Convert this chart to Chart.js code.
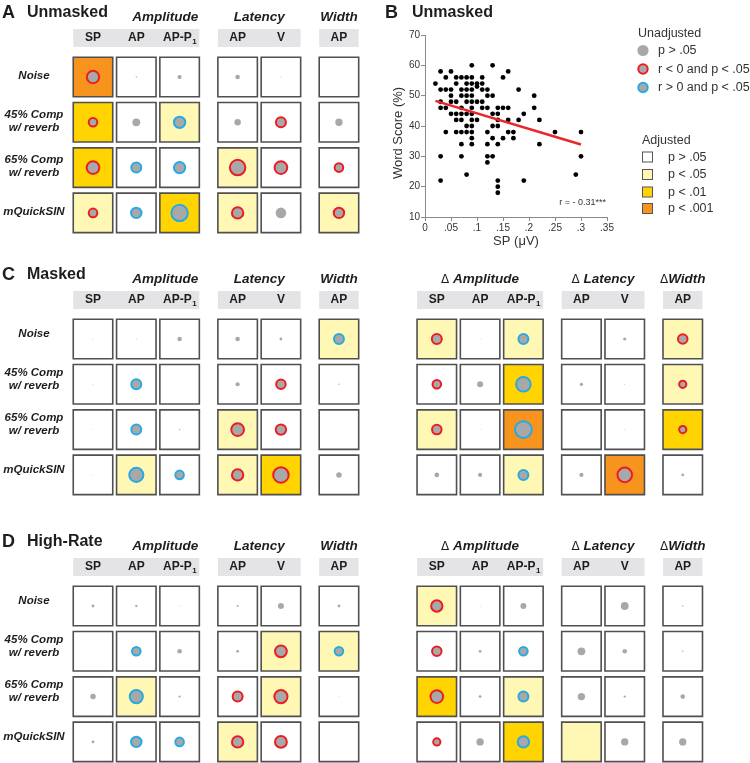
<!DOCTYPE html>
<html><head><meta charset="utf-8">
<script src="https://cdn.jsdelivr.net/npm/chart.js@4.4.1/dist/chart.umd.min.js"></script>
<style>
html,body{margin:0;padding:0;background:#fff;}
#wrap{position:relative;width:750px;height:763px;overflow:hidden;background:#fff;}
canvas{position:absolute;display:block;}
</style></head><body>
<div id="wrap">
<canvas id="cA" width="370" height="250" style="left:0;top:0"></canvas>
<canvas id="cB" width="380" height="250" style="left:370px;top:0"></canvas>
<canvas id="cC" width="750" height="245" style="left:0;top:258px"></canvas>
<canvas id="cD" width="750" height="258" style="left:0;top:505px"></canvas>
</div>
<script>
// ---------------- DATA ----------------
const rowLabels = [['Noise'], ['45% Comp', 'w/ reverb'], ['65% Comp', 'w/ reverb'], ['mQuickSIN']];
const groupCols = [['SP', 'AP', 'AP-P1'], ['AP', 'V'], ['AP']];
const groupTitles = ['Amplitude', 'Latency', 'Width'];
const deltaTitles = ['Δ Amplitude', 'Δ Latency', 'ΔWidth'];
const unadjLabels = ['p > .05', 'r < 0 and p < .05', 'r > 0 and p < .05'];
const adjLabels = ['p > .05', 'p < .05', 'p < .01', 'p < .001'];

// Panel A – Unmasked (columns: Amp SP, AP, AP-P1 | Lat AP, V | Width AP)
const unmaskedR = [
  [-0.31, 0.03, 0.09, 0.10, 0.02, 0.00],
  [-0.23, 0.17, 0.29, 0.14, -0.26, 0.16],
  [-0.32, 0.26, 0.29, -0.38, -0.32, -0.23],
  [-0.23, 0.27, 0.40, -0.29, 0.23, -0.27]
];
const unmaskedSig = [
  [1, 0, 0, 0, 0, 0],
  [1, 0, 1, 0, 1, 0],
  [1, 1, 1, 1, 1, 1],
  [1, 1, 1, 1, 0, 1]
];
const unmaskedAdj = [
  [3, 0, 0, 0, 0, 0],
  [2, 0, 1, 0, 0, 0],
  [2, 0, 0, 1, 0, 0],
  [1, 0, 2, 1, 0, 1]
];

// Panel C – Masked (6 raw + 6 delta columns)
const maskedR = [
  [0.02, 0.02, 0.10, 0.10, 0.06, 0.26, -0.26, 0.02, 0.26, 0.01, 0.07, -0.25],
  [0.02, 0.26, 0.01, 0.09, -0.25, 0.03, -0.23, 0.13, 0.36, 0.07, 0.02, -0.20],
  [0.02, 0.26, 0.03, -0.32, -0.27, 0.01, -0.25, 0.02, 0.41, 0.01, 0.02, -0.20],
  [0.02, 0.35, 0.23, -0.29, -0.38, 0.12, 0.10, 0.09, 0.26, 0.09, -0.36, 0.06]
];
const maskedSig = [
  [0, 0, 0, 0, 0, 1, 1, 0, 1, 0, 0, 1],
  [0, 1, 0, 0, 1, 0, 1, 0, 1, 0, 0, 1],
  [0, 1, 0, 1, 1, 0, 1, 0, 1, 0, 0, 1],
  [0, 1, 1, 1, 1, 0, 0, 0, 1, 0, 1, 0]
];
const maskedAdj = [
  [0, 0, 0, 0, 0, 1, 1, 0, 1, 0, 0, 1],
  [0, 0, 0, 0, 0, 0, 0, 0, 2, 0, 0, 1],
  [0, 0, 0, 1, 0, 0, 1, 0, 3, 0, 0, 2],
  [0, 1, 0, 1, 2, 0, 0, 0, 1, 0, 3, 0]
];

// Panel D – High-Rate
const highRateR = [
  [0.06, 0.05, 0.02, 0.04, 0.13, 0.06, -0.29, 0.02, 0.13, 0.00, 0.17, 0.03],
  [0.01, 0.23, 0.10, 0.06, -0.30, 0.23, -0.25, 0.06, 0.23, 0.17, 0.10, 0.03],
  [0.12, 0.33, 0.05, -0.26, -0.33, 0.02, -0.32, 0.06, 0.26, 0.16, 0.05, 0.10],
  [0.06, 0.27, 0.23, -0.29, -0.30, 0.01, -0.20, 0.16, 0.29, 0.00, 0.16, 0.16]
];
const highRateSig = [
  [0, 0, 0, 0, 0, 0, 1, 0, 0, 0, 0, 0],
  [0, 1, 0, 0, 1, 1, 1, 0, 1, 0, 0, 0],
  [0, 1, 0, 1, 1, 0, 1, 0, 1, 0, 0, 0],
  [0, 1, 1, 1, 1, 0, 1, 0, 1, 0, 0, 0]
];
const highRateAdj = [
  [0, 0, 0, 0, 0, 0, 1, 0, 0, 0, 0, 0],
  [0, 0, 0, 0, 1, 1, 0, 0, 0, 0, 0, 0],
  [0, 1, 0, 0, 1, 0, 2, 0, 1, 0, 0, 0],
  [0, 0, 0, 1, 0, 0, 0, 0, 2, 1, 0, 0]
];

// Panel B – scatter SP (µV) vs Word Score (%)
const spUV = [
  0.09, 0.13,
  0.03, 0.05, 0.16,
  0.04, 0.06, 0.07, 0.08, 0.09, 0.11, 0.15,
  0.02, 0.06, 0.08, 0.09, 0.10, 0.11,
  0.10,
  0.03, 0.04, 0.05, 0.07, 0.08, 0.09, 0.11, 0.12, 0.18,
  0.05, 0.07, 0.08, 0.09, 0.12, 0.13, 0.21,
  0.03, 0.05, 0.06, 0.08, 0.09, 0.10, 0.11,
  0.03, 0.04, 0.07, 0.09, 0.11, 0.12, 0.14, 0.15, 0.16, 0.21,
  0.05, 0.06, 0.07, 0.08, 0.09, 0.13, 0.14, 0.19,
  0.06, 0.07, 0.09, 0.10, 0.14, 0.16, 0.18, 0.22,
  0.08, 0.09, 0.13, 0.14,
  0.04, 0.06, 0.07, 0.08, 0.09, 0.12, 0.16, 0.17, 0.25, 0.30,
  0.09, 0.13, 0.15, 0.17,
  0.07, 0.09, 0.12, 0.14, 0.22,
  0.03, 0.07, 0.12, 0.13, 0.30,
  0.12,
  0.08, 0.29,
  0.03, 0.14, 0.19,
  0.14,
  0.14
];
const wordScore = [
  60, 60,
  58, 58, 58,
  56, 56, 56, 56, 56, 56, 56,
  54, 54, 54, 54, 54, 54,
  53,
  52, 52, 52, 52, 52, 52, 52, 52, 52,
  50, 50, 50, 50, 50, 50, 50,
  48, 48, 48, 48, 48, 48, 48,
  46, 46, 46, 46, 46, 46, 46, 46, 46, 46,
  44, 44, 44, 44, 44, 44, 44, 44,
  42, 42, 42, 42, 42, 42, 42, 42,
  40, 40, 40, 40,
  38, 38, 38, 38, 38, 38, 38, 38, 38, 38,
  36, 36, 36, 36,
  34, 34, 34, 34, 34,
  30, 30, 30, 30, 30,
  28,
  24, 24,
  22, 22, 22,
  20,
  18
];
const fitX = [0.02, 0.30];
const fitY = [48.3, 33.9];
const corrText = 'r = - 0.31***';
const yAxisTitle = 'Word Score (%)';
const xAxisTitle = 'SP (μV)';
const xTickValues = [0, 0.05, 0.1, 0.15, 0.2, 0.25, 0.3, 0.35];
const xTickLabels = ['0', '.05', '.1', '.15', '.2', '.25', '.3', '.35'];
const yTickValues = [10, 20, 30, 40, 50, 60, 70];

// ---------------- STYLE / LAYOUT ----------------
const FONT = '"Liberation Sans", Arial, Helvetica, sans-serif';
const FILLS = ['#FFFFFF', '#FFF7B4', '#FFD400', '#F7941E'];
const GRAY = '#A8A8A8', RED = '#EC1C24', BLUE = '#27AAE1', INK = '#1d1d1d';
const U = 43.3, V = 45.3, X0 = 93, CELL = 39.5, GAP = 0.34, HALF_GAP = 0.92, RSCALE = 23;

function columnPositions(nHalves) {
  const xs = []; let x = 0;
  for (let h = 0; h < nHalves; h++) {
    groupCols.forEach(cols => { cols.forEach(() => { xs.push(x); x += 1; }); x += GAP; });
    x += HALF_GAP;
  }
  return xs;
}

function drawHeaderLabel(ctx, txt, cx, cy) {
  ctx.font = 'bold 12px ' + FONT;
  ctx.textBaseline = 'middle';
  if (txt === 'AP-P1') {
    const main = 'AP-P';
    const w1 = ctx.measureText(main).width;
    ctx.font = 'bold 8px ' + FONT;
    const w2 = ctx.measureText('1').width;
    const left = cx - (w1 + w2) / 2;
    ctx.textAlign = 'left';
    ctx.font = 'bold 12px ' + FONT;
    ctx.fillText(main, left, cy);
    ctx.font = 'bold 8px ' + FONT;
    ctx.fillText('1', left + w1 + 0.5, cy + 4);
  } else {
    ctx.textAlign = 'center';
    ctx.fillText(txt, cx, cy);
  }
}

function drawGroupTitle(ctx, title, x, cy, align) {
  ctx.textBaseline = 'middle';
  const bi = 'italic bold 13.5px ' + FONT;
  if (title.charAt(0) === 'Δ') {
    const rest = title.slice(1);
    ctx.font = '12px "DejaVu Sans", ' + FONT;
    const wd = ctx.measureText('Δ').width;
    ctx.font = bi;
    const wr = ctx.measureText(rest).width;
    let left = align === 'right' ? x - wd - wr : x - (wd + wr) / 2;
    ctx.textAlign = 'left';
    ctx.font = '12px "DejaVu Sans", ' + FONT;
    ctx.fillText('Δ', left, cy + 0.5);
    ctx.font = bi;
    ctx.fillText(rest, left + wd, cy);
  } else {
    ctx.font = bi;
    ctx.textAlign = align;
    ctx.fillText(title, x, cy);
  }
}

function gridChart(id, panel) {
  const canvas = document.getElementById(id);
  const W = canvas.width, H = canvas.height;
  const nCols = panel.r[0].length;
  const nHalves = nCols / 6;
  const colX = columnPositions(nHalves);
  const cells = [], dots = [];
  panel.r.forEach((row, ri) => row.forEach((rv, ci) => {
    cells.push({ x: colX[ci], y: ri, adj: panel.adj[ri][ci] });
    dots.push({ x: colX[ci], y: ri, r: rv, sig: panel.sig[ri][ci] });
  }));

  const textPlugin = {
    id: 'gridText',
    afterDraw(chart) {
      const ctx = chart.ctx, xs = chart.scales.x, ys = chart.scales.y;
      const py0 = ys.getPixelForValue(0);
      const half = CELL / 2;
      ctx.save();
      ctx.fillStyle = INK;
      ctx.textBaseline = 'middle';
      ctx.textAlign = 'left';
      ctx.font = 'bold 18px ' + FONT;
      ctx.fillText(panel.letter, 2, py0 - 64);
      ctx.font = 'bold 16px ' + FONT;
      ctx.fillText(panel.name, 27, py0 - 64);
      // row labels
      ctx.font = 'italic bold 11.5px ' + FONT;
      ctx.textAlign = 'center';
      rowLabels.forEach((lines, ri) => {
        const cy = ys.getPixelForValue(ri) + panel.labelDy;
        if (lines.length === 1) ctx.fillText(lines[0], 34, cy);
        else { ctx.fillText(lines[0], 34, cy - 6.5); ctx.fillText(lines[1], 34, cy + 6.5); }
      });
      // headers + group titles
      let ci = 0;
      for (let h = 0; h < nHalves; h++) {
        groupCols.forEach((cols, gi) => {
          const left = xs.getPixelForValue(colX[ci]) - half;
          const right = xs.getPixelForValue(colX[ci + cols.length - 1]) + half;
          ctx.fillStyle = '#E4E4E6';
          ctx.fillRect(left, py0 - 48, right - left, 18);
          ctx.fillStyle = INK;
          cols.forEach((c, k) => drawHeaderLabel(ctx, c, xs.getPixelForValue(colX[ci + k]), py0 - 39));
          const title = h === 0 ? groupTitles[gi] : deltaTitles[gi];
          if (h === 0 && gi === 0) drawGroupTitle(ctx, title, right - 1, py0 - 60, 'right');
          else drawGroupTitle(ctx, title, (left + right) / 2, py0 - 60, 'center');
          ci += cols.length;
        });
      }
      ctx.restore();
    }
  };

  return new Chart(canvas, {
    type: 'scatter',
    data: {
      datasets: [
        {
          data: dots, order: 0, clip: false,
          pointStyle: 'circle',
          pointRadius: c => { const a = Math.abs(c.raw.r) * RSCALE; return c.raw.sig ? Math.max(a - 1, 0) : a; },
          pointBackgroundColor: GRAY,
          pointBorderColor: c => (c.raw.r < 0 ? RED : BLUE),
          pointBorderWidth: c => (c.raw.sig ? 2 : 0)
        },
        {
          data: cells, order: 1, clip: false,
          pointStyle: 'rect',
          pointRadius: CELL / Math.SQRT2,
          pointBackgroundColor: c => FILLS[c.raw.adj],
          pointBorderColor: '#505050',
          pointBorderWidth: 1.6
        }
      ]
    },
    options: {
      responsive: false, animation: false, events: [],
      layout: { padding: 0, autoPadding: false },
      plugins: { legend: { display: false }, tooltip: { enabled: false } },
      scales: {
        x: { type: 'linear', display: false, min: -X0 / U, max: (W - X0) / U },
        y: { type: 'linear', display: false, reverse: true, min: -panel.y0 / V, max: (H - panel.y0) / V }
      }
    },
    plugins: [textPlugin]
  });
}

gridChart('cA', { letter: 'A', name: 'Unmasked', r: unmaskedR, sig: unmaskedSig, adj: unmaskedAdj, y0: 77, labelDy: -1 });
gridChart('cC', { letter: 'C', name: 'Masked', r: maskedR, sig: maskedSig, adj: maskedAdj, y0: 81, labelDy: -5 });
gridChart('cD', { letter: 'D', name: 'High-Rate', r: highRateR, sig: highRateSig, adj: highRateAdj, y0: 101, labelDy: -5 });

// ---------------- Panel B ----------------
const scatterExtras = {
  id: 'scatterExtras',
  afterDraw(chart) {
    const ctx = chart.ctx;
    const area = chart.chartArea;
    ctx.save();
    ctx.fillStyle = INK; ctx.textBaseline = 'middle'; ctx.textAlign = 'left';
    ctx.font = 'bold 18px ' + FONT; ctx.fillText('B', 15, 13);
    ctx.font = 'bold 16px ' + FONT; ctx.fillText('Unmasked', 42, 13);
    // y-axis title (placed slightly below the axis centre as in the original)
    ctx.save();
    ctx.translate(area.left - 27, (area.top + area.bottom) / 2 + 7);
    ctx.rotate(-Math.PI / 2);
    ctx.textAlign = 'center'; ctx.fillStyle = '#333';
    ctx.font = '13px ' + FONT;
    ctx.fillText(yAxisTitle, 0, 0);
    ctx.restore();
    // correlation text
    ctx.font = '9px ' + FONT; ctx.fillStyle = '#333'; ctx.textAlign = 'right';
    ctx.fillText(corrText, 236, 203);
    // unadjusted legend
    ctx.fillStyle = '#333'; ctx.textAlign = 'left'; ctx.font = '12.5px ' + FONT;
    ctx.fillText('Unadjusted', 268, 34);
    const ly = [50.5, 69, 87.5];
    unadjLabels.forEach((t, i) => {
      ctx.beginPath();
      if (i === 0) { ctx.arc(273, ly[i], 5.6, 0, Math.PI * 2); ctx.fillStyle = GRAY; ctx.fill(); }
      else {
        ctx.arc(273, ly[i], 4.7, 0, Math.PI * 2); ctx.fillStyle = GRAY; ctx.fill();
        ctx.lineWidth = 2; ctx.strokeStyle = i === 1 ? RED : BLUE; ctx.stroke();
      }
      ctx.fillStyle = '#333'; ctx.font = '12.5px ' + FONT;
      ctx.fillText(t, 288, ly[i] + 0.5);
    });
    // adjusted legend
    ctx.fillText('Adjusted', 272, 141);
    const sy = [157, 174.5, 192, 208.5];
    adjLabels.forEach((t, i) => {
      ctx.fillStyle = FILLS[i]; ctx.fillRect(272.5, sy[i] - 5, 10, 10);
      ctx.lineWidth = 1; ctx.strokeStyle = '#555'; ctx.strokeRect(272.5, sy[i] - 5, 10, 10);
      ctx.fillStyle = '#333'; ctx.font = '12.5px ' + FONT;
      ctx.fillText(t, 298, sy[i] + 0.5);
    });
    ctx.restore();
  }
};

new Chart(document.getElementById('cB'), {
  type: 'scatter',
  data: {
    datasets: [
      {
        data: fitX.map((x, i) => ({ x, y: fitY[i] })), order: 0,
        showLine: true, borderColor: '#E8262B', borderWidth: 2.5, pointRadius: 0, fill: false
      },
      {
        data: spUV.map((x, i) => ({ x, y: wordScore[i] })), order: 1,
        pointRadius: 2.4, pointBackgroundColor: '#000', pointBorderWidth: 0
      }
    ]
  },
  options: {
    responsive: false, animation: false, events: [],
    layout: { padding: { left: 0, top: 35, right: 143, bottom: 0 }, autoPadding: false },
    plugins: { legend: { display: false }, tooltip: { enabled: false } },
    scales: {
      x: {
        type: 'linear', min: 0, max: 0.35,
        afterBuildTicks: s => { s.ticks = xTickValues.map(v => ({ value: v })); },
        afterFit: s => { s.height = 33; },
        ticks: { callback: (v, i) => xTickLabels[i], font: { size: 10, family: FONT }, color: '#333', padding: 1, maxRotation: 0, autoSkip: false },
        grid: { drawOnChartArea: false, drawTicks: true, tickLength: 4, color: '#8a8a8a' },
        border: { color: '#8a8a8a', width: 1 },
        title: { display: true, text: xAxisTitle, font: { size: 13, family: FONT }, color: '#333', padding: { top: 0, bottom: 1 } }
      },
      y: {
        type: 'linear', min: 10, max: 70,
        afterBuildTicks: s => { s.ticks = yTickValues.map(v => ({ value: v })); },
        afterFit: s => { s.width = 55; },
        ticks: { font: { size: 10, family: FONT }, color: '#333', padding: 1, autoSkip: false },
        grid: { drawOnChartArea: false, drawTicks: true, tickLength: 4, color: '#8a8a8a' },
        border: { color: '#8a8a8a', width: 1 },
        title: { display: false }
      }
    }
  },
  plugins: [scatterExtras]
});
</script>
</body></html>
